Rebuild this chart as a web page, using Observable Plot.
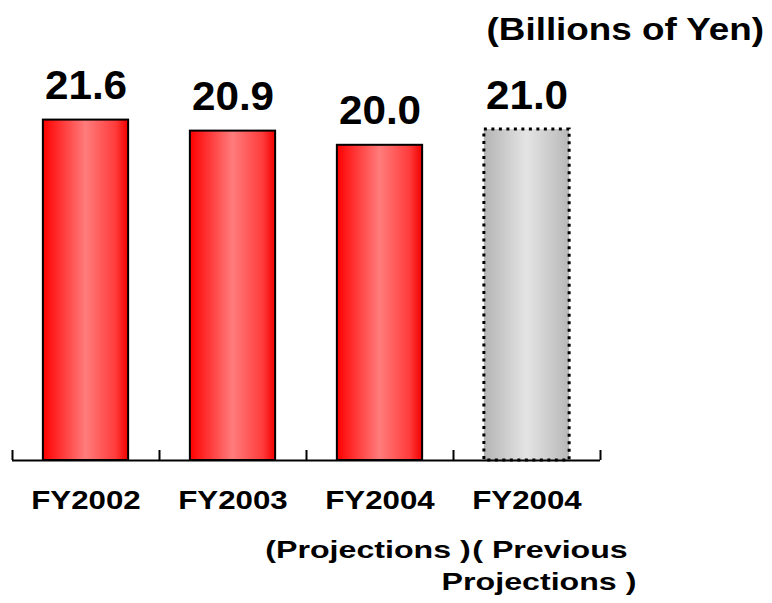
<!DOCTYPE html>
<html>
<head>
<meta charset="utf-8">
<script src="https://cdn.jsdelivr.net/npm/d3@7"></script>
<script src="https://cdn.jsdelivr.net/npm/@observablehq/plot@0.6"></script>
<style>
  html, body { margin: 0; padding: 0; background: #fff; }
  #chart { position: relative; width: 772px; height: 603px; }
</style>
</head>
<body>
<div id="chart"></div>
<script>
// ---- data ----
const categories = ["FY2002", "FY2003", "FY2004", "FY2004"];
const values = [21.6, 20.9, 20.0, 21.0];
const isPrevious = [false, false, false, true];
const subLine1 = ["", "", "(Projections )", "( Previous"];
const subLine2 = ["", "", "", "Projections )"];
const valueLabels = ["21.6", "20.9", "20.0", "21.0"];
const unitLabel = "(Billions of Yen)";
const boundaries = [0, 1, 2, 3, 4];

const idx = categories.map((_, i) => i);
const sub1Idx = idx.filter(i => subLine1[i]);
const sub2Idx = idx.filter(i => subLine2[i]);
const font = "Arial, 'Liberation Sans', Helvetica, sans-serif";

const chart = Plot.plot({
  width: 772,
  height: 603,
  marginLeft: 12,
  marginRight: 172,
  marginTop: 66,
  marginBottom: 143,
  style: { fontFamily: font, background: "white", overflow: "visible" },
  x: { domain: [0, 4], axis: null },
  y: { domain: [0, 25], axis: null },
  marks: [
    Plot.rectY(idx.filter(i => !isPrevious[i]), {
      x1: i => i + 0.21, x2: i => i + 0.79, y1: () => 0, y2: i => values[i],
      fill: "url(#redGrad)", stroke: "black", strokeWidth: 2
    }),
    Plot.rectY(idx.filter(i => isPrevious[i]), {
      x1: i => i + 0.21, x2: i => i + 0.79, y1: () => 0, y2: i => values[i],
      fill: "url(#grayGrad)", stroke: "black", strokeWidth: 3, strokeDasharray: "3,4.5"
    }),
    Plot.ruleY([0], { stroke: "black", strokeWidth: 2 }),
    Plot.ruleX(boundaries, { y1: () => 0, y2: () => 0, insetTop: -10, stroke: "black", strokeWidth: 2 }),
    Plot.text(idx, {
      x: i => i + 0.5, y: i => values[i], text: i => valueLabels[i],
      lineAnchor: "bottom", dy: -21, fontSize: 41, fontWeight: "bold", fill: "black",
      ariaDescription: "vlabels"
    }),
    Plot.text(idx, {
      x: i => i + 0.5, y: () => 0, text: i => categories[i],
      lineAnchor: "bottom", dy: 48, fontSize: 25, fontWeight: "bold", fill: "black",
      ariaDescription: "xlabels"
    }),
    Plot.text(sub1Idx, {
      x: i => i + 0.5, y: () => 0, text: i => subLine1[i],
      lineAnchor: "bottom", dy: 97, fontSize: 24, fontWeight: "bold", fill: "black",
      ariaDescription: "sub1"
    }),
    Plot.text(sub2Idx, {
      x: i => i + 0.5, y: () => 0, text: i => subLine2[i],
      lineAnchor: "bottom", dy: 129, fontSize: 24, fontWeight: "bold", fill: "black",
      ariaDescription: "sub2"
    })
  ]
});

document.getElementById("chart").appendChild(chart);
const svg = d3.select(chart);

// gradients
const defs = svg.insert("defs", ":first-child");
const red = defs.append("linearGradient").attr("id", "redGrad").attr("x1", 0).attr("x2", 1).attr("y1", 0).attr("y2", 0);
[[0, "#ff0000"], [0.5, "#ff7c7c"], [0.85, "#ff3c3c"], [1, "#f20000"]].forEach(([o, c]) =>
  red.append("stop").attr("offset", o).attr("stop-color", c));
const gray = defs.append("linearGradient").attr("id", "grayGrad").attr("x1", 0).attr("x2", 1).attr("y1", 0).attr("y2", 0);
[[0, "#b4b4b4"], [0.5, "#e4e4e4"], [1, "#b8b8b8"]].forEach(([o, c]) =>
  gray.append("stop").attr("offset", o).attr("stop-color", c));

// unit label
svg.append("text")
  .attr("x", 764).attr("y", 40)
  .attr("text-anchor", "end")
  .attr("font-family", font).attr("font-size", 32).attr("font-weight", "bold")
  .text(unitLabel)
  .attr("data-stretch", 1.15);

// horizontal stretch for the wide original typeface
function stretch(sel, k) {
  sel.each(function () {
    const len = this.getComputedTextLength();
    this.setAttribute("textLength", len * k);
    this.setAttribute("lengthAdjust", "spacingAndGlyphs");
  });
}
stretch(svg.selectAll('g[aria-description="vlabels"] text'), 1.03);
stretch(svg.selectAll('g[aria-description="xlabels"] text'), 1.25);
stretch(svg.selectAll('g[aria-description="sub1"] text'), 1.34);
stretch(svg.selectAll('g[aria-description="sub2"] text'), 1.34);
stretch(svg.selectAll('text[data-stretch]'), 1.15);

// offsets of the wrapped sub-labels relative to their bars (PowerPoint-style wrapping)
const sub1Offsets = { 2: -12, 3: 23 };
const sub2Offsets = { 3: 12 };
svg.selectAll('g[aria-description="sub1"] text').each(function (_, j) {
  this.setAttribute("dx", sub1Offsets[sub1Idx[j]] || 0);
});
svg.selectAll('g[aria-description="sub2"] text').each(function (_, j) {
  this.setAttribute("dx", sub2Offsets[sub2Idx[j]] || 0);
});
</script>
</body>
</html>
